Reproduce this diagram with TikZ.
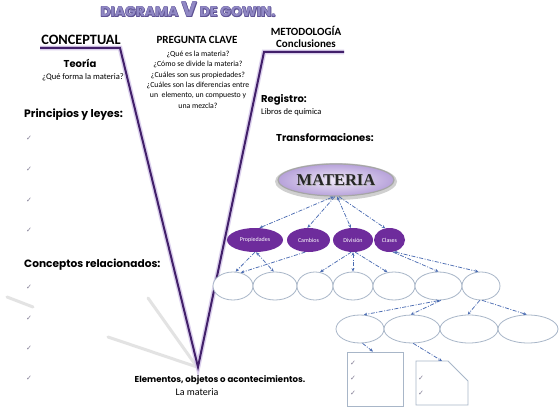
\documentclass[tikz,border=0pt]{standalone}
\usepackage{fontspec}
\setmainfont{Carlito}
\newfontfamily\gothic{Poppins}
\newfontfamily\dejavu{DejaVu Sans}
\newfontfamily\tms{Liberation Serif}
\usetikzlibrary{shapes.geometric,arrows.meta}
\definecolor{vline}{HTML}{42206A}
\definecolor{vglow}{HTML}{CDBDE6}
\definecolor{purp}{HTML}{6E2C9C}
\definecolor{arr}{HTML}{4C6DB3}
\definecolor{ell}{HTML}{A8B6C8}
\definecolor{ttl}{HTML}{9088C4}
\definecolor{ttlsh}{HTML}{5E5294}
\definecolor{chk}{HTML}{7F7A92}
\definecolor{matin}{HTML}{F1EAF9}
\definecolor{matout}{HTML}{B7A2DA}
\begin{document}
\begin{tikzpicture}[x=1pt,y=-1pt,
  vl/.style={line width=2pt,draw=vline,line join=miter},
  glow/.style={line width=4.8pt,draw=vglow,opacity=0.7},
  shadowline/.style={line width=3pt,draw=gray!22,line cap=round},
  pnode/.style={ellipse,fill=purp,inner sep=0,text=white,font=\fontsize{6}{7}\selectfont,minimum height=24},
  wnode/.style={ellipse,draw=ell,line width=0.8pt,fill=white,inner sep=0,minimum height=28},
  link/.style={draw=arr,line width=0.75pt,dash pattern=on 4pt off 1.5pt on 1pt off 1.5pt,-{Stealth[length=3.5pt,width=3pt]}},
  blink/.style={link,{Stealth[length=3.5pt,width=3pt]}-{Stealth[length=3.5pt,width=3pt]}},
  chkmark/.style={text=chk,font=\dejavu\fontsize{7}{7}\selectfont,inner sep=0},
  head/.style={font=\bfseries\fontsize{11}{12}\selectfont,inner sep=0,anchor=base},
  gothhead/.style={font=\gothic\bfseries\fontsize{10}{11}\selectfont,inner sep=0,anchor=base west},
  small/.style={font=\fontsize{8.5}{9}\selectfont,inner sep=0},
  titlefont/.style={font=\gothic\bfseries\fontsize{14}{16}\selectfont,inner sep=0,anchor=base},
  boxst/.style={draw=ell,line width=0.8pt,fill=white}
]
\useasboundingbox (0,0) rectangle (560,409);
\fill[white] (0,0) rectangle (560,409);

% title
\foreach \dx/\dy [count=\i] in {0.35/0.35,-0.35/0.35,0.35/-0.35,-0.35/-0.35,0.9/0.9}
  \node[titlefont,text=ttlsh] (titlesh\i) at (188+\dx,17+\dy) {DIAGRAMA {\fontsize{21}{22}\selectfont V} DE GOWIN.};
\node[titlefont,text=ttl] (title) at (188,17) {DIAGRAMA {\fontsize{21}{22}\selectfont V} DE GOWIN.};

% grey decorative strokes
\draw[shadowline] (7,297) -- (33,307);
\draw[shadowline] (148,298) -- (197,367);
\draw[shadowline] (108,337) -- (197,367);

% V shape
\coordinate (lh) at (40,48);
\coordinate (lt) at (120,48);
\coordinate (vx) at (198,367);
\coordinate (rt) at (264,52);
\coordinate (rh) at (344,52);
\draw[glow] (lh) -- (lt) -- (vx) -- (rt) -- (rh);
\draw[vl] (lh) -- (lt) -- (vx) -- (rt) -- (rh);

% headers
\node[head,font=\bfseries\fontsize{14.3}{15}\selectfont] (concept) at (81,45) {CONCEPTUAL};
\node[head] (preg) at (197,44) {PREGUNTA CLAVE};
\node[head] (metod) at (306,36) {METODOLOGÍA};
\node[head] (concl) at (306,48) {Conclusiones};

\node[font=\gothic\bfseries\fontsize{10}{11}\selectfont,inner sep=0,anchor=base] (teoria) at (80,68) {Teoría};
\node[small,anchor=base] (teoq) at (83,80) {¿Qué forma la materia?};

\node[small,align=center,anchor=north,font=\fontsize{7.8}{10.3}\selectfont] (questions) at (198,51) {¿Qué es la materia?\\¿Cómo se divide la materia?\\¿Cuáles son sus propiedades?\\¿Cuáles son las diferencias entre\\un~ elemento, un compuesto y\\una mezcla?};

\node[gothhead] (registro) at (261,103) {Registro:};
\node[small,anchor=base west] (libros) at (261,115) {Libros de química};
\node[gothhead] (transf) at (276,142) {Transformaciones:};

\node[gothhead,font=\gothic\bfseries\fontsize{10.8}{11}\selectfont] (princ) at (24,118) {Principios y leyes:};
\node[gothhead,font=\gothic\bfseries\fontsize{10.6}{11}\selectfont] (concrel) at (24,267) {Conceptos relacionados:};

\foreach \yy [count=\i] in {138,169,200,230} \node[chkmark] (pc\i) at (29,\yy) {✓};
\foreach \yy [count=\i] in {287,318,348,378} \node[chkmark] (cc\i) at (29,\yy) {✓};

\node[font=\gothic\bfseries\fontsize{8.6}{9}\selectfont,inner sep=0,anchor=base] (elem) at (220,382) {Elementos, objetos o acontecimientos.};
\node[font=\fontsize{10}{11}\selectfont,inner sep=0,anchor=base] (lamat) at (197,395) {La materia};

% MATERIA
\fill[gray!60,opacity=0.6] (336,181.5) ellipse [x radius=61, y radius=18.5];
\node[ellipse,draw=gray!70,line width=1.2pt,inner color=matin,outer color=matout,minimum width=116,minimum height=32,inner sep=0] (mat) at (336,180) {};
\node[font=\tms\bfseries\fontsize{16.5}{17}\selectfont,text=gray!60,inner sep=0] (mattxtsh) at (336.8,180.8) {MATERIA};
\node[font=\tms\bfseries\fontsize{16.5}{17}\selectfont,text=black!85,inner sep=0] (mattxt) at (336,180) {MATERIA};

% purple nodes
\node[pnode,minimum width=56] (prop) at (255,240) {Propiedades};
\node[pnode,minimum width=43] (camb) at (308.5,240) {Cambios};
\node[pnode,minimum width=40] (div) at (353,240) {División};
\node[pnode,minimum width=31] (clas) at (389.5,240) {Clases};

% row 1
\node[wnode,minimum width=40] (r1) at (233,286) {};
\node[wnode,minimum width=44] (r2) at (275,286) {};
\node[wnode,minimum width=36] (r3) at (315,286) {};
\node[wnode,minimum width=40] (r4) at (353,286) {};
\node[wnode,minimum width=42] (r5) at (394,286) {};
\node[wnode,minimum width=47] (r6) at (438.5,286) {};
\node[wnode,minimum width=38] (r7) at (481,286) {};

% row 2
\node[wnode,minimum width=48] (q1) at (360,329) {};
\node[wnode,minimum width=56] (q2) at (412,329) {};
\node[wnode,minimum width=58] (q3) at (469,329) {};
\node[wnode,minimum width=60] (q4) at (528,329) {};

% boxes
\node[boxst,rectangle,minimum width=56,minimum height=54,inner sep=0] (box1) at (375,379) {};
\draw[boxst] (416,361) -- (448,361) -- (468,381) -- (468,405) -- (416,405) -- cycle;
\coordinate (box2) at (442,361);
\foreach \yy [count=\i] in {363,378,393} \node[chkmark] (b1c\i) at (353,\yy) {✓};
\foreach \yy [count=\i] in {378,393} \node[chkmark] (b2c\i) at (421,\yy) {✓};

% connectors
\draw[blink] (mat.262) -- (prop.70);
\draw[link] (mat.266) -- (camb.95);
\draw[blink] (mat.274) -- (div.100);
\draw[link] (mat.280) -- (clas.110);

\draw[link] (prop.270) -- (r1.80);
\draw[blink] (prop.275) -- (r2.95);
\draw[link] (camb.255) -- (r1.60);

\draw[link] (div.262) -- (r3.70);
\draw[blink] (div.270) -- (r4.90);
\draw[link] (div.280) -- (r5.115);

\draw[link] (clas.285) -- (r6.90);
\draw[blink] (clas.290) -- (r7.100);

\draw[blink] (r6.275) -- (q1.75);
\draw[link] (r6.280) -- (q2.95);
\draw[link] (r7.265) -- (q3.95);
\draw[link] (r7.275) -- (q4.95);

\draw[link] (q1.280) -- ([xshift=-2pt]box1.north);
\draw[link] (q2.275) -- (box2);
\end{tikzpicture}
\end{document}
